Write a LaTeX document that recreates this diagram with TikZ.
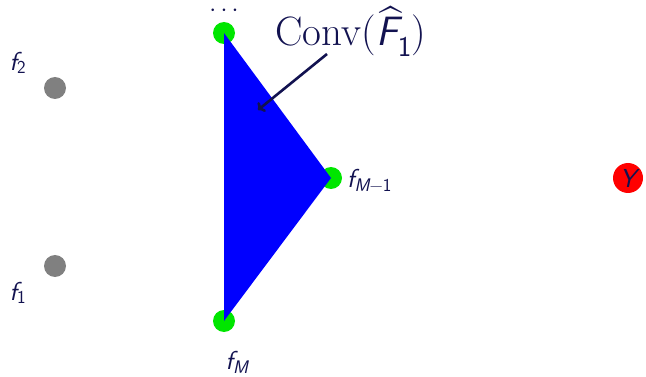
\documentclass[tikz,border=0pt]{standalone}
\usetikzlibrary{arrows.meta}
\definecolor{navy}{RGB}{18,18,80}
\definecolor{dotgreen}{RGB}{0,230,0}
\newcommand{\hatF}{\ooalign{\sffamily\itshape F\cr\hidewidth\kern0.18em\raisebox{0.22em}{\^{}}\hidewidth\cr}}
\begin{document}
\begin{tikzpicture}[x=1pt,y=-1pt,
  dot/.style={circle,inner sep=0pt,minimum size=22pt},
  lab/.style={text=navy,font=\fontsize{26}{30}\selectfont\sffamily,inner sep=0pt}]
\useasboundingbox (0,0) rectangle (646,377);
\node[dot,fill=gray] (f2) at (55,88) {};
\node[dot,fill=gray] (f1) at (55,266) {};
\node[dot,fill=dotgreen] (top) at (224,33) {};
\node[dot,fill=dotgreen] (m1) at (331,178) {};
\node[dot,fill=dotgreen] (fM) at (224,321) {};
\node[dot,fill=red,minimum size=30pt,lab] (Y) at (628,178) {\itshape Y};
\fill[blue] (top.center) -- (m1.center) -- (fM.center) -- cycle;
\node[lab] (l2) at (18,63) {\itshape f\textsubscript{\upshape 2}};
\node[lab] (l1) at (18,293) {\itshape f\textsubscript{\upshape 1}};
\node[lab,anchor=west] (lm1) at (347,180) {\itshape f\textsubscript{M\upshape\textminus 1}};
\node[lab] (lM) at (237,362) {\itshape f\textsubscript{M}};
\node[lab] (dots) at (224,11) {$\cdots$};
\node[text=navy,font=\fontsize{41}{48}\selectfont,inner sep=0pt] (conv) at (351,36) {Conv(\hatF\textsubscript{\sffamily 1})};
\coordinate (start) at (327,54);
\coordinate (tip) at (258,110);
\draw[navy,line width=2.6pt,-{To[length=6pt,width=12pt]}] (start) -- (tip);
\end{tikzpicture}
\end{document}
